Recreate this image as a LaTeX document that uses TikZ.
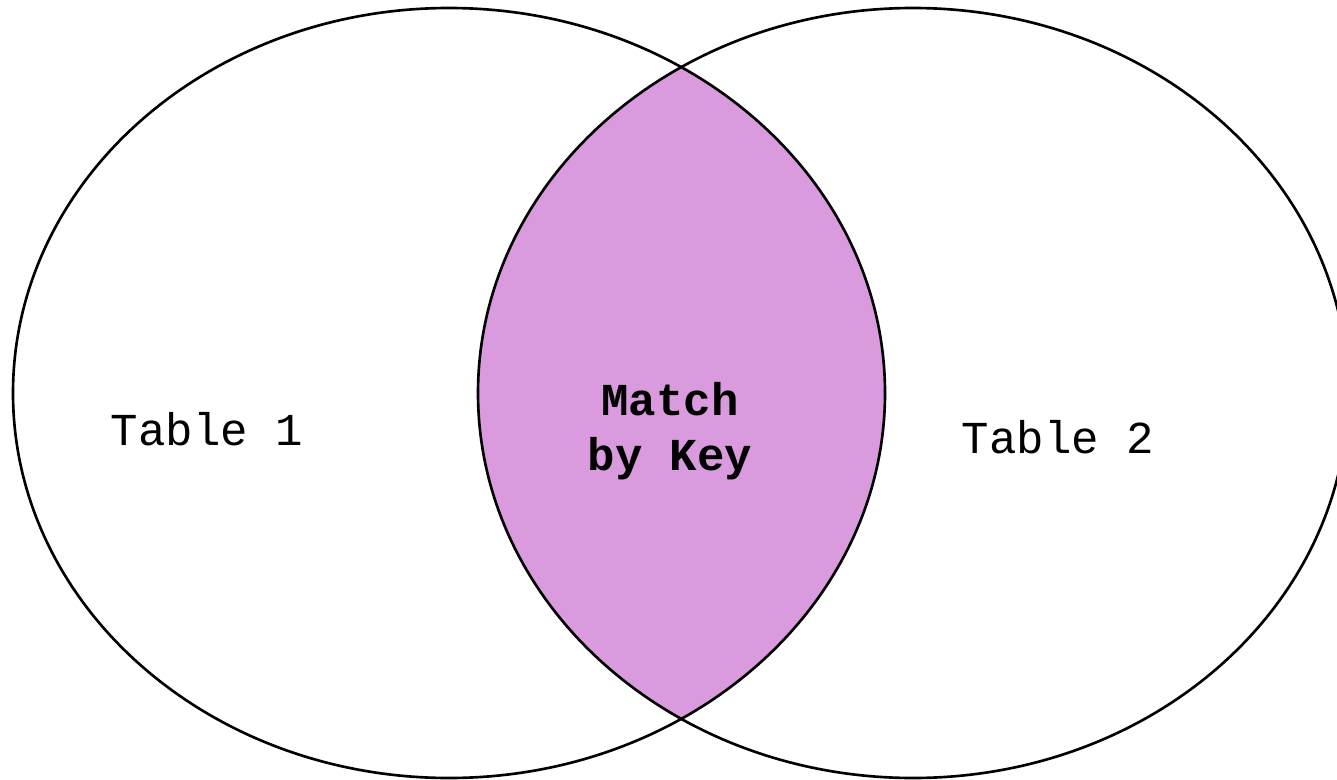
\documentclass[tikz,border=0pt]{standalone}
\usepackage{fontspec}
\setmonofont{Liberation Mono}
\definecolor{lensfill}{RGB}{218,155,222}
\begin{document}
\begin{tikzpicture}[x=0.01cm,y=-0.01cm,
  setline/.style={draw=black,line width=0.75pt},
  label/.style={font=\ttfamily\fontsize{13}{15.6}\selectfont,inner sep=0pt},
  keylabel/.style={label,font=\ttfamily\bfseries\fontsize{13}{15.6}\selectfont,align=center}]
  \useasboundingbox (0,0) rectangle (1337,779);
  \clip (0,0) rectangle (1337,779);
  % overlap of the two sets
  \begin{scope}
    \clip (449,393) ellipse [x radius=436, y radius=385];
    \fill[lensfill] (913,393) ellipse [x radius=435, y radius=385];
  \end{scope}
  % the two sets
  \draw[setline] (449,393) ellipse [x radius=436, y radius=385];
  \draw[setline] (913,393) ellipse [x radius=435, y radius=385];
  % labels
  \node[label,anchor=base] (t1) at (207,445) {Table 1};
  \node[label,anchor=base] (t2) at (1058,453) {Table 2};
  \node[keylabel] (key) at (670,431) {Match\\by Key};
\end{tikzpicture}
\end{document}
